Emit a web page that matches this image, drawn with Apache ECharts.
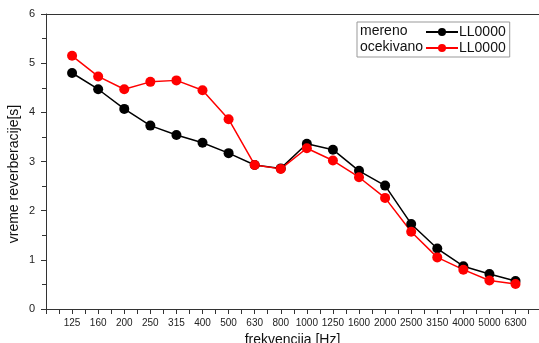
<!DOCTYPE html>
<html>
<head>
<meta charset="utf-8">
<script src="https://cdn.jsdelivr.net/npm/echarts@6/dist/echarts.min.js"></script>
<style>
html, body { margin: 0; padding: 0; background: #fff; }
#chart { width: 539px; height: 343px; }
</style>
</head>
<body>
<div id="chart"></div>
<script>
var frequencies = ['125', '160', '200', '250', '315', '400', '500', '630', '800', '1000',
    '1250', '1600', '2000', '2500', '3150', '4000', '5000', '6300'];
var mereno = [4.80, 4.47, 4.07, 3.73, 3.54, 3.38, 3.17, 2.93, 2.86, 3.36,
    3.24, 2.81, 2.51, 1.73, 1.23, 0.87, 0.71, 0.57];
var ocekivano = [5.15, 4.73, 4.47, 4.62, 4.65, 4.45, 3.86, 2.93, 2.85, 3.27,
    3.02, 2.68, 2.26, 1.57, 1.05, 0.80, 0.58, 0.51];
var yTicks = [0, 1, 2, 3, 4, 5, 6];

function toPoints(arr) {
    return arr.map(function (v, i) { return [i + 1, v]; });
}

var font = 'Liberation Sans, Arial, sans-serif';
var narrow = 'Liberation Sans Narrow, Arial Narrow, Liberation Sans, sans-serif';
var axisColor = '#333';

var chart = echarts.init(document.getElementById('chart'));
var option = {
    animation: false,
    grid: {
        left: 46,
        top: 14,
        right: 0,
        bottom: 34,
        outerBoundsMode: 'none'
    },
    legend: {
        orient: 'vertical',
        left: 357,
        top: 22,
        padding: [3, 4, 2, 68],
        itemGap: 2,
        itemWidth: 32,
        itemHeight: 10,
        borderColor: '#999',
        borderWidth: 1,
        formatter: function () { return 'LL0000'; },
        textStyle: { fontFamily: font, fontSize: 14, color: '#111', padding: [0, 0, 0, -4] },
        data: ['mereno', 'ocekivano']
    },
    graphic: [
        {
            type: 'text', left: 360, top: 24,
            style: { text: 'mereno', font: '14px ' + font, fill: '#111' }
        },
        {
            type: 'text', left: 360, top: 40,
            style: { text: 'ocekivano', font: '14px ' + font, fill: '#111' }
        },
        {
            type: 'text', x: 14, y: 174, rotation: Math.PI / 2,
            style: {
                text: 'vreme reverberacije[s]', font: '14px ' + font, fill: '#111',
                align: 'center', verticalAlign: 'middle'
            }
        }
    ],
    xAxis: [
        {
            type: 'value',
            min: 0,
            max: 18.9,
            interval: 0.5,
            name: 'frekvencija [Hz]',
            nameLocation: 'middle',
            nameGap: 20,
            nameTextStyle: { fontFamily: font, fontSize: 14, color: '#111' },
            splitLine: { show: false },
            axisLine: { lineStyle: { color: axisColor, width: 1 } },
            axisTick: { length: 5, lineStyle: { color: axisColor } },
            axisLabel: {
                margin: 9,
                fontFamily: narrow,
                fontSize: 10,
                color: '#222',
                showMaxLabel: false,
                formatter: function (v) {
                    if (Math.abs(v - Math.round(v)) > 1e-6) return '';
                    var i = Math.round(v) - 1;
                    return frequencies[i] || '';
                }
            }
        },
        {
            type: 'value',
            position: 'top',
            min: 0,
            max: 18.9,
            axisLine: { show: true, onZero: false, lineStyle: { color: axisColor, width: 1 } },
            axisTick: { show: false },
            axisLabel: { show: false },
            splitLine: { show: false }
        }
    ],
    yAxis: {
        type: 'value',
        min: 0,
        max: 6,
        interval: 1,
        splitLine: { show: false },
        axisLine: { show: true, lineStyle: { color: axisColor, width: 1 } },
        axisTick: { length: 5, lineStyle: { color: axisColor } },
        minorTick: { show: true, splitNumber: 2, length: 4, lineStyle: { color: axisColor } },
        axisLabel: {
            margin: 11,
            fontFamily: narrow,
            fontSize: 11,
            color: '#222',
            formatter: function (v) { return yTicks.indexOf(v) >= 0 ? String(v) : ''; }
        }
    },
    series: [
        {
            name: 'mereno',
            type: 'line',
            data: toPoints(mereno),
            symbol: 'circle',
            symbolSize: 10,
            itemStyle: { color: '#000' },
            lineStyle: { color: '#000', width: 1.5 }
        },
        {
            name: 'ocekivano',
            type: 'line',
            data: toPoints(ocekivano),
            symbol: 'circle',
            symbolSize: 10,
            itemStyle: { color: '#ff0000' },
            lineStyle: { color: '#ff0000', width: 1.5 }
        }
    ]
};
chart.setOption(option);
</script>
</body>
</html>
